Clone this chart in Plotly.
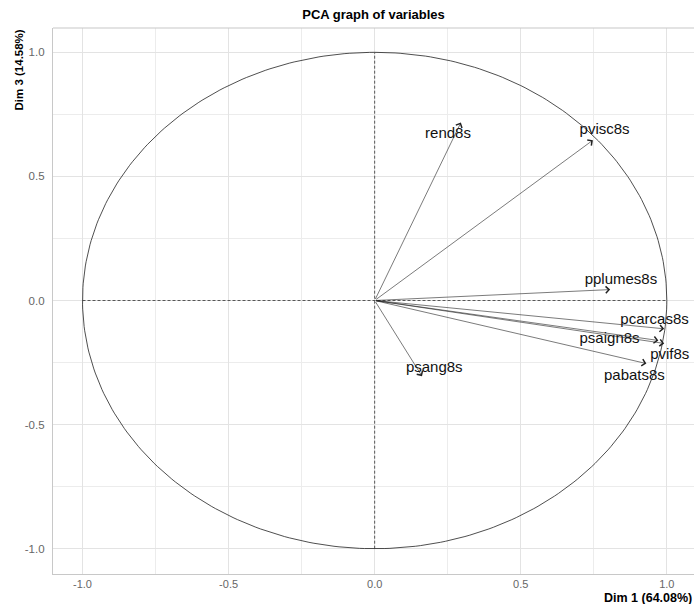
import numpy as np
import plotly.graph_objects as go

variables = ["rend8s", "pvisc8s", "pplumes8s", "pcarcas8s", "psaign8s", "pvif8s", "pabats8s", "psang8s"]
dim1 = [0.295, 0.747, 0.806, 0.991, 0.971, 0.991, 0.930, 0.162]
dim3 = [0.717, 0.646, 0.044, -0.114, -0.161, -0.173, -0.254, -0.305]
label_x = [0.251, 0.787, 0.843, 0.958, 0.804, 1.010, 0.889, 0.204]
label_y = [0.671, 0.685, 0.082, -0.081, -0.158, -0.220, -0.305, -0.273]

title = "PCA graph of variables"
xtitle = "Dim 1 (64.08%)"
ytitle = "Dim 3 (14.58%)"
tick_vals = [-1.0, -0.5, 0.0, 0.5, 1.0]
tick_text = ["-1.0", "-0.5", "0.0", "0.5", "1.0"]

fig = go.Figure()

# correlation circle
theta = np.linspace(0, 2 * np.pi, 361)
fig.add_trace(go.Scatter(x=np.cos(theta), y=np.sin(theta), mode="lines",
                         line=dict(color="#222222", width=0.8), hoverinfo="skip", showlegend=False))
# dashed axes
fig.add_trace(go.Scatter(x=[-1, 1], y=[0, 0], mode="lines",
                         line=dict(color="#333333", width=0.8, dash="3px,2px"), showlegend=False))
fig.add_trace(go.Scatter(x=[0, 0], y=[-1, 1], mode="lines",
                         line=dict(color="#333333", width=0.8, dash="3px,2px"), showlegend=False))

# arrows
for v, x, y in zip(variables, dim1, dim3):
    fig.add_annotation(x=x, y=y, ax=0, ay=0, xref="x", yref="y", axref="x", ayref="y",
                       text="", showarrow=True, arrowhead=4, arrowsize=2.2, arrowwidth=0.6,
                       arrowcolor="#222222")
# labels
fig.add_trace(go.Scatter(x=label_x, y=label_y, mode="text", text=variables,
                         textfont=dict(family="Liberation Sans, Arial", size=15, color="#111111"),
                         textposition="middle center", showlegend=False))

fig.add_annotation(text=f"<b>{xtitle}</b>", xref="paper", yref="paper", x=0.998, y=-0.0445,
                   xanchor="right", yanchor="middle", showarrow=False, borderpad=0,
                   font=dict(family="Liberation Sans, Arial", size=12.5, color="black"))
fig.add_annotation(text=f"<b>{ytitle}</b>", xref="paper", yref="paper", x=-0.0546, y=1.0,
                   xanchor="center", yanchor="top", textangle=-90, showarrow=False,
                   font=dict(family="Liberation Sans, Arial", size=11.5, color="black"))

# top border
fig.add_shape(type="line", xref="paper", yref="paper", x0=0, x1=1, y0=1, y1=1,
              line=dict(color="#c8c8c8", width=1.2))

fig.update_layout(
    width=694, height=604,
    margin=dict(l=53, r=0, t=28, b=30),
    paper_bgcolor="white", plot_bgcolor="white",
    title=dict(text=f"<b>{title}</b>", x=0.5, xref="paper", y=1 - 14 / 604, yanchor="middle",
               font=dict(family="Liberation Sans, Arial", size=13, color="black")),
    showlegend=False,
    font=dict(family="Liberation Sans, Arial"),
)
fig.update_xaxes(range=[-1.101, 1.093], tickvals=tick_vals, ticktext=tick_text,
                 showgrid=True, gridcolor="#e3e3e3", gridwidth=1,
                 minor=dict(dtick=0.25, tick0=0, showgrid=True, gridcolor="#ececec", gridwidth=1),
                 zeroline=False, showline=True, linecolor="#c8c8c8", linewidth=1.2,
                 ticks="", ticklabelstandoff=0,
                 tickfont=dict(size=11, color="#666666"))
fig.update_yaxes(range=[-1.102, 1.098], tickvals=tick_vals, ticktext=tick_text,
                 showgrid=True, gridcolor="#e3e3e3", gridwidth=1,
                 minor=dict(dtick=0.25, tick0=0, showgrid=True, gridcolor="#ececec", gridwidth=1),
                 zeroline=False, showline=True, linecolor="#c8c8c8", linewidth=1.2,
                 ticks="", ticklabelstandoff=5,
                 tickfont=dict(size=11.5, color="#666666"))

fig.write_html("out.html")
